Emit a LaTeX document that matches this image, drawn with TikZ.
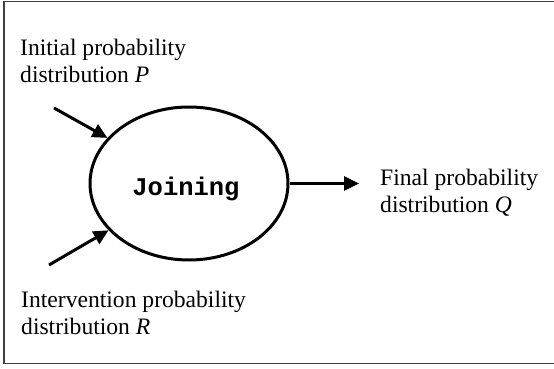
\documentclass[tikz,border=0pt]{standalone}
\usepackage{fontspec}
\setmainfont{Liberation Serif}
\setmonofont{Liberation Mono}
\usetikzlibrary{arrows.meta,shapes.geometric}
\begin{document}
\begin{tikzpicture}[x=1pt,y=-1pt,
  lbl/.style={anchor=base west,align=left,inner sep=0pt,font=\fontsize{23.6}{27}\selectfont},
  conn/.style={line width=3pt,-{Triangle[length=15pt,width=14pt]}},
  proc/.style={ellipse,draw,line width=3pt,minimum width=198pt,minimum height=153pt,inner sep=0pt}]
\useasboundingbox (0,0) rectangle (554,369);
\draw[line width=1.2pt,color=black!75] (4,363.5) -- (4,1.5) -- (560,1.5);
\draw[line width=1.2pt,color=black!75] (4,363.5) -- (560,363.5);
\node[proc] (join) at (189,183.5) {};
\node[anchor=base,inner sep=0pt,font=\fontsize{25.5}{25.5}\selectfont\ttfamily\bfseries] (jt) at (186,195) {Joining};
\node[lbl] (p) at (20,82) {Initial probability\\distribution \textit{P}};
\node[lbl] (r) at (21,334) {Intervention probability\\distribution \textit{R}};
\node[lbl] (q) at (380,212) {Final probability\\distribution \textit{Q}};
\coordinate (ps) at (54,108);
\coordinate (rs) at (49,265);
\coordinate (qe) at (359,183.5);
\draw[conn] (ps) -- (join);
\draw[conn] (rs) -- (join);
\draw[conn] (join.east) -- (qe);
\end{tikzpicture}
\end{document}
